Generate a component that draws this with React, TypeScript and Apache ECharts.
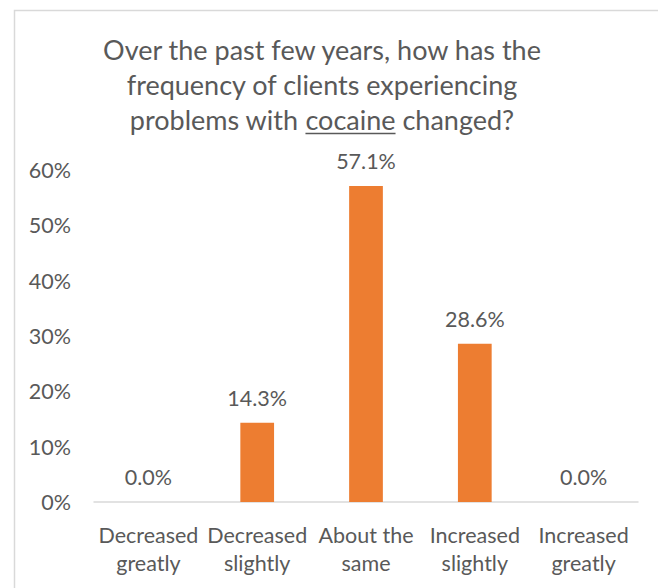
import React, { useEffect, useRef } from "react";
import * as echarts from "echarts";

const categories = [
  "Decreased\ngreatly",
  "Decreased\nslightly",
  "About the\nsame",
  "Increased\nslightly",
  "Increased\ngreatly",
];
const values = [0.0, 14.3, 57.1, 28.6, 0.0];
const yTicks = { min: 0, max: 60, interval: 10 };
const titleLine1 = "Over the past few years, how has the";
const titleLine2 = "frequency of clients experiencing";
const titleLine3 = ["problems with ", "cocaine", " changed?"];

const FONT = "Lato, 'Open Sans', sans-serif";
const TEXT = "#595959";
const BAR = "#ED7D31";
const TITLE_SIZE = 27;
const LABEL_SIZE = 21.5;
const TITLE_CX = 322;

function measure(text: string, size: number): number {
  const c = document.createElement("canvas").getContext("2d");
  if (!c) return text.length * size * 0.5;
  c.font = `${size}px Lato`;
  return c.measureText(text).width;
}

export default function App() {
  const ref = useRef<HTMLDivElement>(null);
  useEffect(() => {
    if (!ref.current) return;
    const chart = echarts.init(ref.current, undefined, { renderer: "svg" });
    const w0 = measure(titleLine3[0], TITLE_SIZE);
    const w1 = measure(titleLine3[1], TITLE_SIZE);
    const w2 = measure(titleLine3[2], TITLE_SIZE);
    const total = w0 + w1 + w2;
    const x0 = TITLE_CX - total / 2;
    const titleStyle = (text: string, align: string) => ({
      text,
      fill: TEXT,
      fontSize: TITLE_SIZE,
      fontFamily: FONT,
      textAlign: align,
      textVerticalAlign: "bottom",
    });
    const b1 = 63, b2 = 98, b3 = 133;
    chart.setOption({
      animation: false,
      backgroundColor: "#ffffff",
      textStyle: { fontFamily: FONT, color: TEXT },
      graphic: [
        {
          type: "rect",
          left: 12,
          top: 8,
          shape: { width: 700, height: 700 },
          style: { fill: "none", stroke: "#d9d9d9", lineWidth: 1.5 },
          silent: true,
        },
        { type: "text", x: TITLE_CX, y: b1, style: titleStyle(titleLine1, "center") },
        { type: "text", x: TITLE_CX, y: b2, style: titleStyle(titleLine2, "center") },
        { type: "text", x: x0, y: b3, style: titleStyle(titleLine3[0], "left") },
        { type: "text", x: x0 + w0, y: b3, style: titleStyle(titleLine3[1], "left") },
        { type: "text", x: x0 + w0 + w1, y: b3, style: titleStyle(titleLine3[2], "left") },
        {
          type: "line",
          shape: { x1: x0 + w0, y1: b3 + 0.5, x2: x0 + w0 + w1, y2: b3 + 0.5 },
          style: { stroke: TEXT, lineWidth: 1.5 },
        },
      ],
      grid: { left: 94, right: 20, top: 170, bottom: 86, containLabel: false },
      xAxis: {
        type: "category",
        data: categories,
        axisLine: { show: true, lineStyle: { color: "#d9d9d9", width: 1.5 } },
        axisTick: { show: false },
        axisLabel: {
          color: TEXT,
          fontSize: LABEL_SIZE,
          fontFamily: FONT,
          lineHeight: 28,
          margin: 19,
          interval: 0,
        },
      },
      yAxis: {
        type: "value",
        min: yTicks.min,
        max: yTicks.max,
        interval: yTicks.interval,
        axisLine: { show: false },
        axisTick: { show: false },
        splitLine: { show: false },
        axisLabel: {
          color: TEXT,
          fontSize: LABEL_SIZE,
          fontFamily: FONT,
          margin: 23,
          formatter: (v: number) => `${v}%`,
        },
      },
      series: [
        {
          type: "bar",
          data: values,
          barWidth: "31%",
          itemStyle: { color: BAR },
          label: {
            show: true,
            position: "top",
            distance: 14,
            color: TEXT,
            fontSize: LABEL_SIZE,
            fontFamily: FONT,
            lineHeight: 22,
            formatter: (p: any) => `${Number(p.value).toFixed(1)}%`,
          },
        },
      ],
    });
    return () => chart.dispose();
  }, []);
  return (
    <div
      ref={ref}
      style={{ position: "fixed", left: 0, top: 0, width: 658, height: 588 }}
    />
  );
}
